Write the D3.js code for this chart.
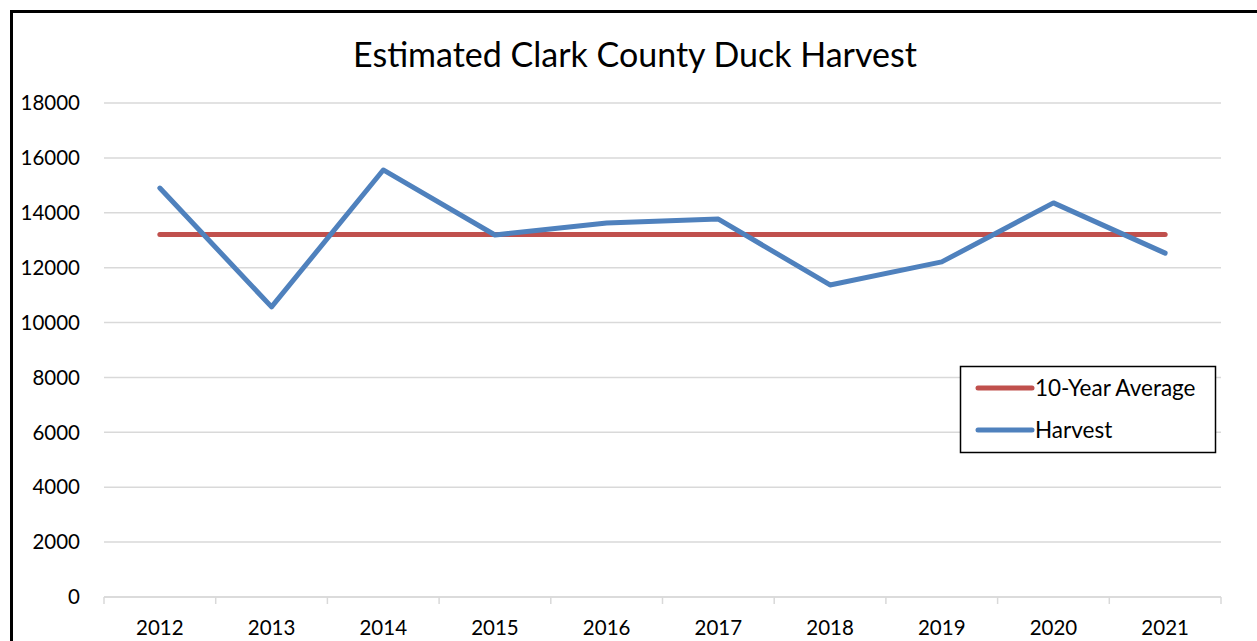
<!DOCTYPE html>
<html>
<head>
<meta charset="utf-8">
<script src="https://cdn.jsdelivr.net/npm/d3@7"></script>
<style>
  body { margin: 0; background: #fff; }
  svg { display: block; font-family: Lato, "Open Sans", sans-serif; }
  .grid line { stroke: #d9d9d9; stroke-width: 1.5; }
  .line { fill: none; stroke-width: 5; stroke-linecap: round; stroke-linejoin: round; }
</style>
</head>
<body>
<svg id="chart" width="1257" height="641"></svg>
<script>
// Clark County duck harvest, 2012-2021
const YEARS = ["2012", "2013", "2014", "2015", "2016", "2017", "2018", "2019", "2020", "2021"];
const HARVEST = [14900, 10570, 15560, 13190, 13630, 13770, 11370, 12210, 14360, 12530];
const AVERAGE = [13210, 13210, 13210, 13210, 13210, 13210, 13210, 13210, 13210, 13210];
const Y_TICKS = [0, 2000, 4000, 6000, 8000, 10000, 12000, 14000, 16000, 18000];

const SERIES = [
  { key: "10-Year Average", values: AVERAGE, color: "#c0504d" },
  { key: "Harvest", values: HARVEST, color: "#4f81bd" },
];

const svg = d3.select("#chart");
const m = { top: 103, right: 36, bottom: 44, left: 104 };
const innerW = +svg.attr("width") - m.left - m.right;
const innerH = +svg.attr("height") - m.top - m.bottom;

// outer chart border (only left and top visible in frame)
svg.append("path")
  .attr("d", "M11.5,641 V11.5 H1257")
  .attr("fill", "none")
  .attr("stroke", "#000")
  .attr("stroke-width", 3);

svg.append("text")
  .attr("x", 635)
  .attr("y", 67)
  .attr("text-anchor", "middle")
  .attr("font-size", 34)
  .text("Estimated Clark County Duck Harvest");

const g = svg.append("g").attr("transform", `translate(${m.left},${m.top})`);

const x = d3.scaleBand().domain(YEARS).range([0, innerW]);
const y = d3.scaleLinear().domain([0, 18000]).range([innerH, 0]);

// gridlines
g.append("g")
  .attr("class", "grid")
  .selectAll("line")
  .data(Y_TICKS)
  .join("line")
  .attr("x1", 0)
  .attr("x2", innerW)
  .attr("y1", (d) => y(d))
  .attr("y2", (d) => y(d));

// y labels
g.append("g")
  .selectAll("text")
  .data(Y_TICKS)
  .join("text")
  .attr("x", -24)
  .attr("y", (d) => y(d))
  .attr("dy", "0.35em")
  .attr("text-anchor", "end")
  .attr("font-size", 20.5)
  .text((d) => d);

// x axis with boundary ticks
const gx = g.append("g").attr("transform", `translate(0,${innerH})`);
gx.append("line")
  .attr("x1", 0).attr("x2", innerW)
  .attr("stroke", "#d9d9d9").attr("stroke-width", 1.5);
const bounds = YEARS.map((d) => x(d)).concat([innerW]);
gx.selectAll("line.tk")
  .data(bounds)
  .join("line")
  .attr("class", "tk")
  .attr("x1", (d) => d).attr("x2", (d) => d)
  .attr("y1", 0).attr("y2", 7)
  .attr("stroke", "#d9d9d9").attr("stroke-width", 1.5);
gx.selectAll("text")
  .data(YEARS)
  .join("text")
  .attr("x", (d) => x(d) + x.bandwidth() / 2)
  .attr("y", 38)
  .attr("text-anchor", "middle")
  .attr("font-size", 20.5)
  .text((d) => d);

const line = d3.line()
  .x((d, i) => x(YEARS[i]) + x.bandwidth() / 2)
  .y((d) => y(d));

g.selectAll(".line")
  .data(SERIES)
  .join("path")
  .attr("class", "line")
  .attr("stroke", (s) => s.color)
  .attr("d", (s) => line(s.values));

// legend
const lg = svg.append("g").attr("transform", "translate(960,366)");
lg.append("rect")
  .attr("x", 0.5).attr("y", 0.5)
  .attr("width", 255).attr("height", 86)
  .attr("fill", "#fff").attr("stroke", "#000").attr("stroke-width", 1.5);
const items = lg.selectAll("g.item")
  .data(SERIES)
  .join("g")
  .attr("class", "item")
  .attr("transform", (d, i) => `translate(0,${22 + i * 42})`);
items.append("line")
  .attr("x1", 18).attr("x2", 72)
  .attr("stroke", (d) => d.color)
  .attr("stroke-width", 5)
  .attr("stroke-linecap", "round");
items.append("text")
  .attr("x", 75)
  .attr("dy", "0.35em")
  .attr("font-size", 22.5)
  .text((d) => d.key);
</script>
</body>
</html>
